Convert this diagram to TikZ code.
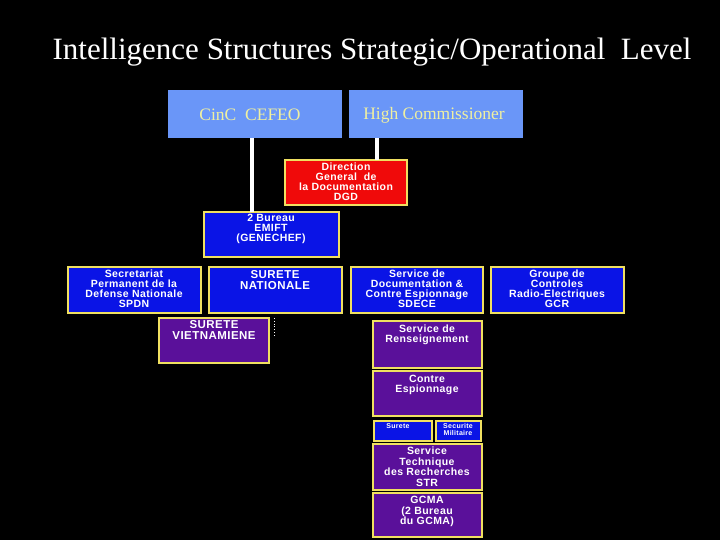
\documentclass[tikz,border=0pt]{standalone}
\usepackage{fontspec}
\setmainfont{Liberation Serif}
\newfontfamily\arialf[LetterSpace=4]{Liberation Sans}
\definecolor{topb}{HTML}{6A96F8}
\definecolor{toptxt}{HTML}{F0F0A0}
\definecolor{bbl}{HTML}{0A14E6}
\definecolor{ppl}{HTML}{5A109A}
\definecolor{rred}{HTML}{F00A0A}
\definecolor{yb}{HTML}{F0E060}
\begin{document}
\begin{tikzpicture}[x=1pt,y=-1pt,
 wl/.style={white,line width=3.5pt}]
\fill[black] (0,0) rectangle (720,540);
\node[white,font=\fontsize{31}{33}\selectfont] (title) at (372,52) {Intelligence Structures Strategic/Operational\ \ Level};
% top boxes
\fill[topb] (168,90) rectangle (342,138);
\fill[topb] (349,90) rectangle (523,138);
\node[text=toptxt,font=\fontsize{17.5}{19}\selectfont] (cinc) at (250,115) {CinC\ \ CEFEO};
\node[text=toptxt,font=\fontsize{17.5}{19}\selectfont] (hc) at (434,115) {High Commissioner};
\coordinate (cincb) at (252,138);
\coordinate (hcb) at (377,138);
% boxes
\def\bx#1#2#3#4#5#6#7{\draw[#7,fill=#6] (#2,#3) rectangle (#4,#5); \coordinate (#1) at ({(#2+#4)/2},#3);}
\bx{dgd}{285}{160}{407}{205}{rred}{draw=yb,line width=2pt}
\bx{emift}{204}{212}{339}{257}{bbl}{draw=yb,line width=2pt}
\draw[wl] (cincb) -- (cincb |- emift);
\draw[wl] (hcb) -- (hcb |- dgd);
\bx{spdn}{68}{267}{201}{313}{bbl}{draw=yb,line width=2pt}
\bx{sn}{209}{267}{342}{313}{bbl}{draw=yb,line width=2pt}
\bx{sdece}{351}{267}{483}{313}{bbl}{draw=yb,line width=2pt}
\bx{gcr}{491}{267}{624}{313}{bbl}{draw=yb,line width=2pt}
\bx{sv}{159}{318}{269}{363}{ppl}{draw=yb,line width=2pt}
\bx{sr}{373}{321}{482}{368}{ppl}{draw=yb,line width=2pt}
\bx{ce}{373}{371}{482}{416}{ppl}{draw=yb,line width=2pt}
\bx{sur}{374}{421}{432}{441}{bbl}{draw=yb,line width=1.5pt}
\bx{sm}{436}{421}{481}{441}{bbl}{draw=yb,line width=1.5pt}
\bx{str}{373}{444}{482}{490}{ppl}{draw=yb,line width=2pt}
\bx{gcma}{373}{493}{482}{537}{ppl}{draw=yb,line width=2pt}
\coordinate (d1) at (274,318); \coordinate (d2) at (274,336);
\draw[white,dotted,line width=0.8pt] (d1) -- (d2);
% texts
\tikzset{t/.style={text=white,align=center,anchor=north,inner sep=1pt,font=\arialf\bfseries\fontsize{10.5}{10}\selectfont}}
\node[t] at (346,162) {Direction\\General\ \ de\\la Documentation\\DGD};
\node[t] at (271,213) {2 Bureau\\EMIFT\\(GENECHEF)};
\node[t] at (134,269) {Secretariat\\Permanent de la\\Defense Nationale\\SPDN};
\node[t,font=\arialf\bfseries\fontsize{11.5}{11}\selectfont] at (275,269) {SURETE\\NATIONALE};
\node[t] at (417,269) {Service de\\Documentation \&\\Contre Espionnage\\SDECE};
\node[t] at (557,269) {Groupe de\\Controles\\Radio-Electriques\\GCR};
\node[t,font=\arialf\bfseries\fontsize{11.5}{11}\selectfont] at (214,319) {SURETE\\VIETNAMIENE};
\node[t] at (427,324) {Service de\\Renseignement};
\node[t] at (427,374) {Contre\\Espionnage};
\node[t,font=\arialf\bfseries\fontsize{7}{7.5}\selectfont] at (398,422) {Surete};
\node[t,font=\arialf\bfseries\fontsize{7}{7.5}\selectfont] at (458,422) {Securite\\Militaire};
\node[t,font=\arialf\bfseries\fontsize{10.5}{10.5}\selectfont] at (427,446) {Service\\Technique\\des Recherches\\STR};
\node[t,font=\arialf\bfseries\fontsize{10.5}{10.5}\selectfont] at (427,495) {GCMA\\(2 Bureau\\du GCMA)};
\end{tikzpicture}
\end{document}
